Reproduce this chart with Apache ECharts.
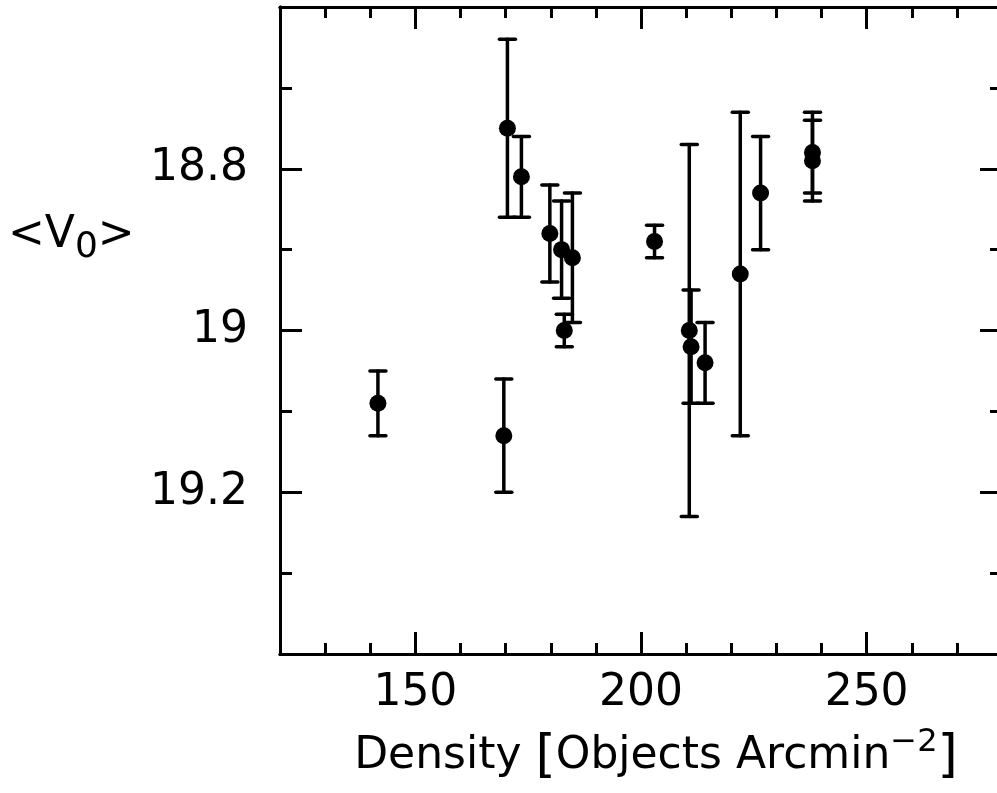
<!DOCTYPE html>
<html>
<head>
<meta charset="utf-8">
<script src="https://cdn.jsdelivr.net/npm/echarts@6/dist/echarts.min.js"></script>
<style>
  html, body { margin: 0; padding: 0; background: #fff; }
  #chart { width: 997px; height: 793px; }
</style>
</head>
<body>
<div id="chart"></div>
<script>
// data
var density = [141.7, 169.6, 170.4, 173.5, 179.8, 182.4, 184.8, 183.0, 203.0, 210.7, 211.1, 214.2, 222.0, 226.5, 238.0, 238.0];
var v0      = [19.09, 19.13, 18.75, 18.81, 18.88, 18.90, 18.91, 19.00, 18.89, 19.00, 19.02, 19.04, 18.93, 18.83, 18.78, 18.79];
var v0Err   = [0.04, 0.07, 0.11, 0.05, 0.06, 0.06, 0.08, 0.02, 0.02, 0.23, 0.07, 0.05, 0.20, 0.07, 0.05, 0.05];

// labelled (major) ticks; minor ticks every step
var xMajor = [150, 200, 250];
var yMajor = [18.8, 19, 19.2];
var xMinorStep = 10, yMinorStep = 0.1;
var xRange = [120, 280];
var yRange = [18.6, 19.4];

var FONT = 'DejaVu Sans';

var points = density.map(function (d, i) { return [d, v0[i]]; });
var bars = density.map(function (d, i) { return [d, v0[i], v0[i] - v0Err[i], v0[i] + v0Err[i]]; });

function xAx(pos, major) {
  var a = {
    type: 'value', gridIndex: 0, position: pos,
    min: xRange[0], max: xRange[1],
    splitLine: { show: false },
    axisLine: { show: true, lineStyle: { color: '#000', width: 3 } },
    axisTick: { show: true, inside: true, length: major ? 22 : 11, lineStyle: { color: '#000', width: 3 } },
    axisLabel: { show: false }
  };
  if (major) {
    a.axisTick.customValues = xMajor;
    a.axisLabel = {
      show: pos === 'bottom', customValues: xMajor,
      color: '#000', fontFamily: FONT, fontSize: 44, margin: 18
    };
  } else {
    a.interval = xMinorStep;
  }
  return a;
}

function yAx(pos, major) {
  var a = {
    type: 'value', gridIndex: 0, position: pos, inverse: true,
    min: yRange[0], max: yRange[1],
    splitLine: { show: false },
    axisLine: { show: true, lineStyle: { color: '#000', width: 3 } },
    axisTick: { show: true, inside: true, length: major ? 22 : 12, lineStyle: { color: '#000', width: 3 } },
    axisLabel: { show: false }
  };
  if (major) {
    a.axisTick.customValues = yMajor;
    a.axisLabel = {
      show: pos === 'left', customValues: yMajor,
      color: '#000', fontFamily: FONT, fontSize: 44, margin: 32
    };
  } else {
    a.interval = yMinorStep;
  }
  return a;
}

var myChart = echarts.init(document.getElementById('chart'));
myChart.setOption({
  backgroundColor: '#fff',
  animation: false,
  grid: { left: 280, top: 7, width: 722, height: 647, outerBoundsMode: 'none', containLabel: false },
  xAxis: [xAx('bottom', false), xAx('bottom', true), xAx('top', false), xAx('top', true)],
  yAxis: [yAx('left', false), yAx('left', true), yAx('right', false), yAx('right', true)],
  graphic: [
    {
      type: 'text', x: 656, y: 757,
      style: {
        text: '{a|Density }{b|[}{a|Objects Arcmin}{s|−2}{b|]}',
        align: 'center', verticalAlign: 'middle',
        rich: {
          a: { fontFamily: FONT, fontSize: 44, lineHeight: 60, fill: '#000' },
          b: { fontFamily: FONT, fontSize: 52, lineHeight: 60, fill: '#000' },
          s: { fontFamily: FONT, fontSize: 32, lineHeight: 26, verticalAlign: 'top', fill: '#000' }
        }
      }
    },
    {
      type: 'text', x: 8, y: 236,
      style: {
        text: '{a|<V}{s|0}{a|>}',
        align: 'left', verticalAlign: 'middle',
        rich: {
          a: { fontFamily: FONT, fontSize: 44, lineHeight: 60, fill: '#000' },
          s: { fontFamily: FONT, fontSize: 36, lineHeight: 20, verticalAlign: 'bottom', fill: '#000' }
        }
      }
    }
  ],
  series: [
    {
      type: 'custom',
      xAxisIndex: 0, yAxisIndex: 0,
      data: bars,
      encode: { x: 0, y: [1, 2, 3] },
      renderItem: function (params, api) {
        var x = api.value(0);
        var lo = api.coord([x, api.value(2)]);
        var hi = api.coord([x, api.value(3)]);
        var cap = 8;
        function st() { return { stroke: '#000', lineWidth: 3.5, lineCap: 'round' }; }
        return {
          type: 'group',
          children: [
            { type: 'line', shape: { x1: lo[0], y1: lo[1], x2: hi[0], y2: hi[1] }, style: st() },
            { type: 'line', shape: { x1: lo[0] - cap, y1: lo[1], x2: lo[0] + cap, y2: lo[1] }, style: st() },
            { type: 'line', shape: { x1: hi[0] - cap, y1: hi[1], x2: hi[0] + cap, y2: hi[1] }, style: st() }
          ]
        };
      },
      z: 2
    },
    {
      type: 'scatter',
      xAxisIndex: 0, yAxisIndex: 0,
      data: points,
      symbol: 'circle',
      symbolSize: 17,
      itemStyle: { color: '#000', opacity: 1 },
      z: 3
    }
  ]
});
</script>
</body>
</html>
